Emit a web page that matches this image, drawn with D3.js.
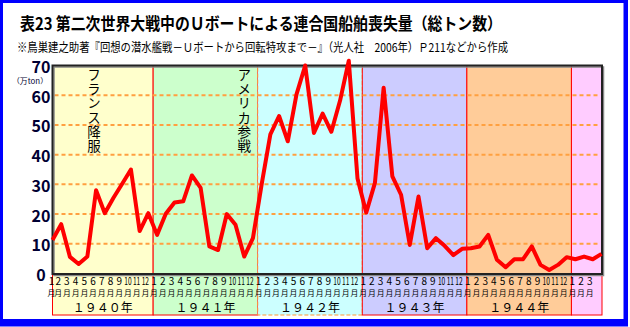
<!DOCTYPE html>
<html><head><meta charset="utf-8">
<script src="https://cdn.jsdelivr.net/npm/d3@7"></script>
<style>
html,body{margin:0;padding:0;background:#fff;}
svg{display:block;}
text{font-family:"Noto Sans CJK JP","Noto Sans",sans-serif;}
</style></head>
<body>
<svg id="chart" width="630" height="327"></svg>
<script>
// ---- data ----
const titleText = "表23 第二次世界大戦中のＵボートによる連合国船舶喪失量（総トン数）";
const subtitleText = "※鳥巣建之助著『回想の潜水艦戦－Ｕボートから回転特攻まで－』（光人社　2006年）Ｐ211などから作成";
const unitLabel = "（万ton）";
const yTicks = [0, 10, 20, 30, 40, 50, 60, 70];
const yearLabels = ["１９４０年", "１９４１年", "１９４２年", "１９４３年", "１９４４年", ""];
const yearColors = ["#FFFFCC", "#CCFFCC", "#CCFFFF", "#CCCCFF", "#FFCC99", "#FFCCFF"];
const monthLabels = ["1","2","3","4","5","6","7","8","9","10","11","12"];
const monthUnit = "月";
const labelledMonths = 63; // Jan 1940 .. Mar 1945
// monthly losses (10,000 gross tons), Jan 1940 .. Apr 1945
const losses1940 = [11.3, 16.6, 5.6, 3.2, 5.7, 28.0, 20.3, 25.5, 30.2, 35.0, 14.3, 20.3];
const losses1941 = [13.0, 20.1, 23.9, 24.3, 33.0, 28.8, 9.1, 7.9, 20.0, 16.4, 5.7, 11.9];
const losses1942 = [30.0, 46.8, 53.0, 44.5, 60.3, 70.0, 47.3, 53.8, 47.7, 58.2, 71.6, 32.0];
const losses1943 = [20.5, 30.5, 62.5, 32.7, 26.5, 9.6, 25.9, 8.5, 11.9, 9.3, 6.2, 8.3];
const losses1944 = [8.5, 9.1, 13.0, 4.6, 2.1, 4.8, 4.8, 9.1, 2.9, 1.2, 2.9, 5.5];
const losses1945 = [4.8, 5.7, 4.8, 6.6];
const losses = [].concat(losses1940, losses1941, losses1942, losses1943, losses1944, losses1945);
const events = [
  {text: "フランス降服", month: 4.75},
  {text: "アメリカ参戦", month: 22.0}
];

// ---- layout ----
const svg = d3.select("#chart");
const plotL = 52.5, plotR = 602, plotT = 65.5, plotB = 274;
const boxBottom = 315;

const x = d3.scaleLinear().domain([0, losses.length - 1]).range([plotL, plotR - 0.5]);
const y = d3.scaleLinear().domain([0, 70]).range([273.5, plotT]);

// frame
svg.append("rect").attr("x",0).attr("y",0).attr("width",628).attr("height",326.5).attr("fill","#0000FF");
svg.append("rect").attr("x",3).attr("y",3).attr("width",620.5).attr("height",316).attr("fill","#FFFFFF");

// title
svg.append("text").attr("x",20).attr("y",30).attr("font-size",16.5).attr("font-weight",700)
  .attr("textLength",482).attr("lengthAdjust","spacingAndGlyphs").attr("fill","#000").text(titleText);
svg.append("text").attr("x",17).attr("y",52).attr("font-size",12).attr("font-weight",400)
  .attr("textLength",491).attr("lengthAdjust","spacingAndGlyphs").attr("fill","#000").text(subtitleText);

// year boxes
const boxStart = k => k === 0 ? plotL : x(12 * k - 0.45);
const years = yearLabels.map((lab, k) => ({
  lab, color: yearColors[k],
  x0: boxStart(k),
  x1: k === yearLabels.length - 1 ? plotR : boxStart(k + 1)
}));
const gBoxes = svg.append("g");
years.forEach((d, k) => {
  gBoxes.append("rect")
    .attr("x", d.x0).attr("y", plotT).attr("width", d.x1 - d.x0).attr("height", boxBottom - plotT)
    .attr("fill", d.color)
    .attr("stroke", k === 2 ? "#FF9933" : "#FF0000")
    .attr("stroke-width", 1)
    .attr("stroke-dasharray", k === 2 ? "4,2" : null);
});

// grid lines
svg.append("g").selectAll("line").data(yTicks.filter(v => v > 0 && v < 70)).join("line")
  .attr("x1", plotL + 2).attr("x2", plotR - 2)
  .attr("y1", d => y(d)).attr("y2", d => y(d))
  .attr("stroke", "#FFA040").attr("stroke-width", 2).attr("stroke-dasharray", "4,3");

// event annotations (vertical text)
svg.append("g").selectAll("text").data(events).join("text")
  .attr("x", d => x(d.month)).attr("y", 68)
  .attr("writing-mode", "vertical-rl")
  .style("writing-mode", "vertical-rl")
  .attr("font-size", 13.5).attr("letter-spacing", 0.8).attr("fill", "#000")
  .text(d => d.text);

// plot border (with shadow)
svg.append("rect").attr("x", plotL + 1.5).attr("y", plotT + 1.5).attr("width", plotR - plotL).attr("height", plotB - plotT)
  .attr("fill","none").attr("stroke","#888").attr("stroke-width",1.5);
svg.append("rect").attr("x", plotL).attr("y", plotT).attr("width", plotR - plotL).attr("height", plotB - plotT)
  .attr("fill","none").attr("stroke","#222").attr("stroke-width",2);

// y axis labels
svg.append("g").selectAll("text").data(yTicks).join("text")
  .attr("x", 41).attr("y", d => y(d) + 0.5)
  .attr("text-anchor","middle").attr("dominant-baseline","central")
  .attr("font-family","'Liberation Sans',Arial,sans-serif").attr("font-weight",700).attr("font-size",16)
  .attr("fill","#000033").text(d => d);

// unit label
svg.append("text").attr("x", 12).attr("y", 84.3)
  .attr("font-size", 7.5).attr("textLength", 36).attr("lengthAdjust", "spacingAndGlyphs")
  .attr("fill", "#000033").text(unitLabel);

// line
const line = d3.line().x((d, i) => x(i)).y(d => y(d));
svg.append("path").datum(losses).attr("d", line)
  .attr("fill","none").attr("stroke","#FF0000").attr("stroke-width",4)
  .attr("stroke-linejoin","round").attr("stroke-linecap","butt");

// month labels
const months = d3.range(labelledMonths).map(i => ({i, m: monthLabels[i % 12], cx: Math.max(x(i - 0.35), 51.5)}));
const gm = svg.append("g");
gm.selectAll("text.num").data(months).join("text").attr("class","num")
  .attr("transform", d => `translate(${d.cx},285) scale(${d.m.length > 1 ? 0.66 : 1},1)`)
  .attr("text-anchor","middle")
  .attr("font-family","'Liberation Sans',Arial,sans-serif").attr("font-size", 10).attr("fill","#000")
  .text(d => d.m);
gm.selectAll("text.mon").data(months).join("text").attr("class","mon")
  .attr("x", d => d.cx).attr("y", 296.3).attr("text-anchor","middle")
  .attr("font-size", 7.8).attr("fill","#000").text(monthUnit);

// year labels
svg.append("g").selectAll("text").data(years).join("text")
  .attr("x", d => (d.x0 + d.x1) / 2).attr("y", 312)
  .attr("text-anchor","middle").attr("font-size", 12).attr("fill","#000")
  .text(d => d.lab);
</script>
</body></html>
